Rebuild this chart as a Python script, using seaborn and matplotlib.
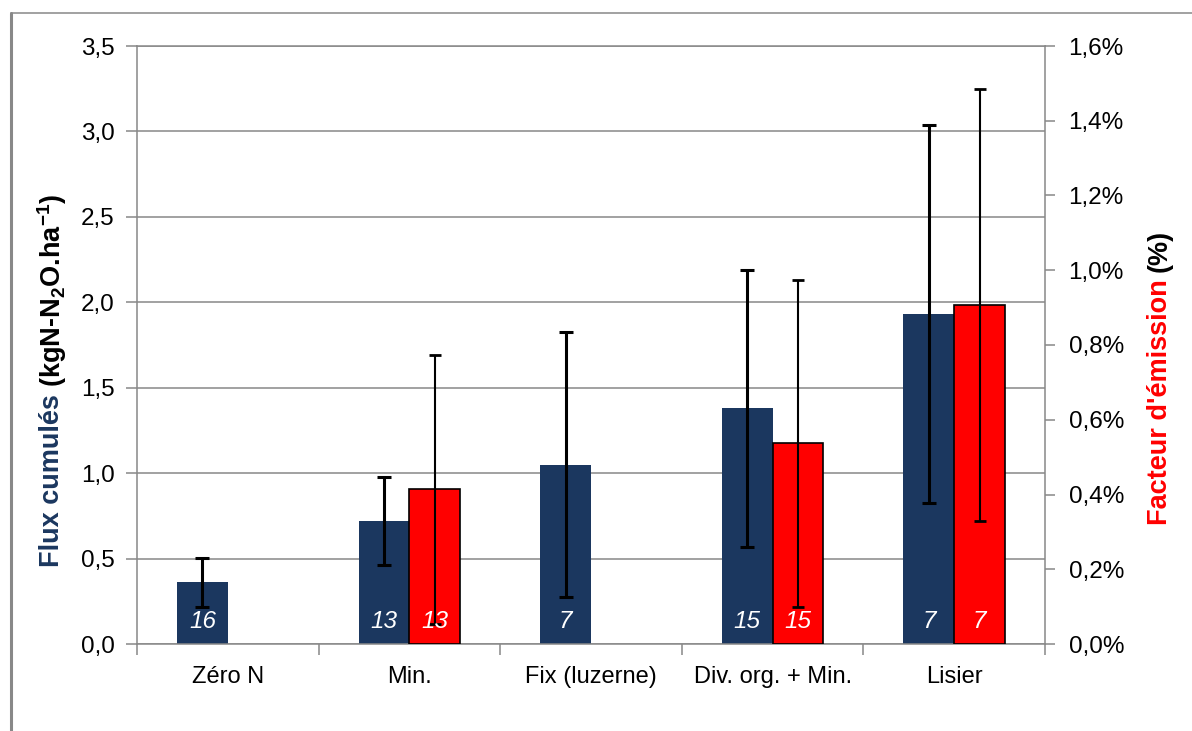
import numpy as np
import pandas as pd
import matplotlib
matplotlib.use("Agg")
import matplotlib.pyplot as plt
from matplotlib.lines import Line2D
from matplotlib.ticker import FixedLocator, FuncFormatter, MultipleLocator
import seaborn as sns

# ---- data -------------------------------------------------------------
categories = ["Zéro N", "Min.", "Fix (luzerne)", "Div. org. + Min.", "Lisier"]

# cumulative N2O flux (kgN-N2O/ha), mean and standard deviation
flux_mean = [0.36, 0.72, 1.05, 1.38, 1.93]
flux_sd = [0.145, 0.26, 0.775, 0.81, 1.105]
flux_n = [16, 13, 7, 15, 7]

# emission factor (%), mean and standard deviation
ef_mean = [np.nan, 0.414, np.nan, 0.537, 0.907]
ef_sd = [np.nan, 0.36, np.nan, 0.437, 0.578]
ef_n = [None, 13, None, 15, 7]

series = ["flux", "ef"]

# ---- style ------------------------------------------------------------
NAVY = "#1B375F"
RED = "#FF0000"
GRAY = "#888888"

sns.set_theme(style="white")
plt.rcParams["font.family"] = ["Liberation Sans", "DejaVu Sans"]
plt.rcParams["mathtext.default"] = "regular"

rows = []
for i, cat in enumerate(categories):
    rows.append({"cat": cat, "serie": "flux", "flux": flux_mean[i], "ef": np.nan})
    rows.append({"cat": cat, "serie": "ef", "flux": np.nan, "ef": ef_mean[i]})
df = pd.DataFrame(rows)

fig = plt.figure(figsize=(11.92, 7.31), dpi=100)
ax = fig.add_axes([137 / 1192, 1 - 644 / 731, (1045 - 137) / 1192, (644 - 46) / 731])
ax2 = ax.twinx()

palette = {"flux": NAVY, "ef": RED}
bar_w = 0.56
sns.barplot(data=df, x="cat", y="flux", hue="serie", order=categories,
            hue_order=series, palette=palette, width=bar_w, saturation=1,
            errorbar=None, legend=False, ax=ax, zorder=2)
sns.barplot(data=df, x="cat", y="ef", hue="serie", order=categories,
            hue_order=series, palette=palette, width=bar_w, saturation=1,
            errorbar=None, legend=False, ax=ax2, zorder=2)

for p in ax.patches:
    p.set_linewidth(0)
for p in ax2.patches:
    p.set_edgecolor("black")
    p.set_linewidth(1.2)

pos = np.arange(len(categories))
x_flux = pos - bar_w / 4
x_ef = pos + bar_w / 4

ax.errorbar(x_flux, flux_mean, yerr=flux_sd, fmt="none", ecolor="black",
            elinewidth=2.2, capsize=5, capthick=2.2, zorder=3)
ax2.errorbar(x_ef, ef_mean, yerr=ef_sd, fmt="none", ecolor="black",
             elinewidth=1.5, capsize=4.5, capthick=2.0, zorder=3)

# sample sizes written at the foot of each bar
label_kw = dict(textcoords="offset points", ha="center", va="center",
                color="white", fontstyle="italic", fontsize=17.5, zorder=5)
for x, n in zip(x_flux, flux_n):
    ax.annotate(str(n), xy=(x, 0), xytext=(0, 16.5), **label_kw)
for x, n in zip(x_ef, ef_n):
    if n is None:
        continue
    ax2.annotate(str(n), xy=(x, 0), xytext=(0, 16.5), **label_kw)

# ---- axes -------------------------------------------------------------
ax.set_xlim(-0.5, len(categories) - 0.5)
ax.set_ylim(0, 3.5)
ax2.set_ylim(0, 1.6)

ax.yaxis.set_major_locator(MultipleLocator(0.5))
ax.yaxis.set_major_formatter(FuncFormatter(lambda v, _: f"{v:.1f}".replace(".", ",")))
ax2.yaxis.set_major_locator(MultipleLocator(0.2))
ax2.yaxis.set_major_formatter(FuncFormatter(lambda v, _: f"{v:.1f}%".replace(".", ",")))

ax.set_axisbelow(True)
ax.yaxis.grid(True, color=GRAY, linewidth=1.1)
ax.xaxis.grid(False)

ax.set_xlabel("")
ax.set_ylabel("")
ax2.set_xlabel("")
ax2.set_ylabel("")

ax.xaxis.set_minor_locator(FixedLocator(np.arange(-0.5, len(categories), 1.0)))
ax.tick_params(axis="x", which="major", length=0, pad=16, labelsize=17, labelcolor="black")
ax.tick_params(axis="x", which="minor", bottom=True, length=8, width=1.1,
               color=GRAY, direction="out")
ax.tick_params(axis="y", which="major", left=True, length=8, width=1.1, color=GRAY,
               direction="out", pad=8, labelsize=17.5, labelcolor="black")
ax2.tick_params(axis="y", which="major", right=True, length=7, width=1.1, color=GRAY,
                direction="out", pad=10, labelsize=17.5, labelcolor="black")

for name in ["left", "bottom", "top"]:
    ax.spines[name].set_color(GRAY)
    ax.spines[name].set_linewidth(1.1)
    ax2.spines[name].set_visible(False)
ax.spines["right"].set_visible(False)
ax2.spines["right"].set_color(GRAY)
ax2.spines["right"].set_linewidth(1.1)

# ---- two-colour axis titles -------------------------------------------
fig.canvas.draw()
renderer = fig.canvas.get_renderer()


def stacked_title(x, y0, parts, size=19.5, gap_px=7):
    y = y0
    for text, color in parts:
        t = fig.text(x, y, text, rotation=90, ha="center", va="bottom",
                     fontsize=size, fontweight="bold", color=color)
        bb = t.get_window_extent(renderer)
        y = fig.transFigure.inverted().transform((0, bb.y1 + gap_px))[1]


stacked_title(52 / 1192, 1 - 567 / 731,
              [("Flux cumulés", NAVY), ("(kgN-N$_2$O.ha$^{-1}$)", "black")])
stacked_title(1160 / 1192, 1 - 525 / 731,
              [("Facteur d'émission", RED), ("(%)", "black")])

# chart frame
fig.add_artist(Line2D([10.5 / 1192, 10.5 / 1192], [0, 1 - 13 / 731],
                      transform=fig.transFigure, color=GRAY, lw=2.2))
fig.add_artist(Line2D([10.5 / 1192, 1], [1 - 13 / 731, 1 - 13 / 731],
                      transform=fig.transFigure, color=GRAY, lw=1.1))

fig.savefig("out.png", dpi=100)
